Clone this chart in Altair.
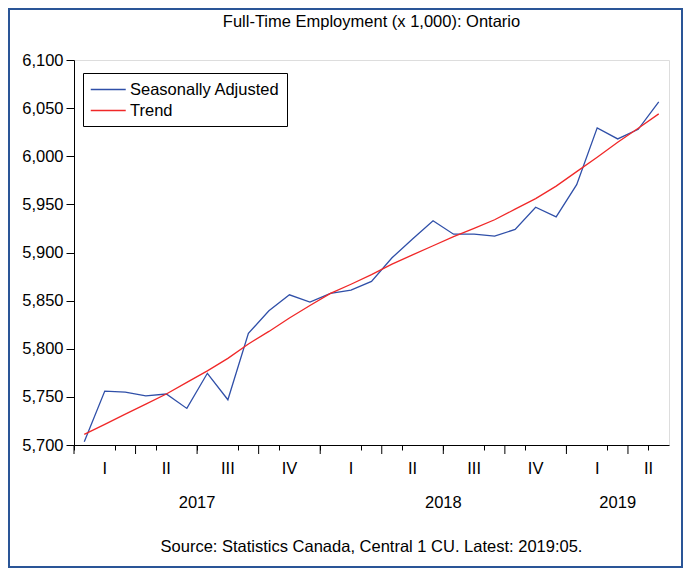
import altair as alt
import pandas as pd

FONT = "Liberation Sans, Arial, sans-serif"
FS = 16.5

# Monthly index: 0 = Jan 2017 ... 28 = May 2019 (points at month centres)
months = list(range(29))
seasonally_adjusted = [
    5703.5, 5756, 5755, 5751, 5753, 5738, 5774.5, 5747, 5816, 5839.5,
    5856, 5848.5, 5857.5, 5861, 5870, 5894.5, 5914, 5933, 5919, 5919,
    5917, 5924, 5947, 5937, 5970.5, 6029.5, 6018, 6028, 6056.5,
]
trend = [
    5711, 5721.5, 5732, 5742.5, 5753, 5765, 5777, 5790, 5805, 5818,
    5832, 5845, 5857.5, 5867, 5877, 5888, 5897.5, 5907, 5916.5, 5925,
    5934, 5945, 5956, 5969, 5984, 5999, 6014.5, 6029, 6044,
]
series_names = ["Seasonally Adjusted", "Trend"]
series_colors = ["#2F4FA8", "#F02828"]

quarter_pos = [1.5, 4.5, 7.5, 10.5, 13.5, 16.5, 19.5, 22.5, 25.5, 28]
quarter_labels = ["I", "II", "III", "IV", "I", "II", "III", "IV", "I", "II"]
year_pos = [6, 18, 26.5]
year_labels = ["2017", "2018", "2019"]
major_ticks = [0, 3, 6, 9, 12, 15, 18, 21, 24, 27]
minor_ticks = list(range(30))
y_ticks = list(range(5700, 6101, 50))

title_text = "Full-Time Employment (x 1,000): Ontario"
source_text = "Source: Statistics Canada, Central 1 CU. Latest: 2019:05."

W, H = 595, 385

rows = []
for m, v in zip(months, seasonally_adjusted):
    rows.append({"m": m + 0.5, "value": v, "series": series_names[0]})
for m, v in zip(months, trend):
    rows.append({"m": m + 0.5, "value": v, "series": series_names[1]})
df = pd.DataFrame(rows)

xscale = alt.Scale(domain=[0, 29], nice=False, zero=False)
yscale = alt.Scale(domain=[5700, 6100], nice=False, zero=False)

x_axis = alt.Axis(
    values=minor_ticks, labels=False, title=None, grid=False,
    tickSize=5, tickColor="black", domainColor="black", tickWidth=1,
)
y_axis = alt.Axis(
    values=y_ticks, format=",d", title=None, grid=False,
    tickSize=8, tickColor="black", domainColor="black",
    labelFontSize=FS, labelFont=FONT, labelColor="black", labelPadding=3,
)

frame = alt.Chart(pd.DataFrame({"a": [0]})).mark_rect(
    fill=None, stroke="#2A5597", strokeWidth=2
).encode(
    x=alt.value(-65), x2=alt.value(W + 13),
    y=alt.value(-51), y2=alt.value(H + 122),
)

lines = alt.Chart(df).mark_line(strokeWidth=1.3).encode(
    x=alt.X("m:Q", scale=xscale, axis=x_axis),
    y=alt.Y("value:Q", scale=yscale, axis=y_axis),
    color=alt.Color(
        "series:N",
        scale=alt.Scale(domain=series_names, range=series_colors),
        legend=alt.Legend(
            title=None, orient="none", legendX=9, legendY=13,
            strokeColor="black", fillColor="white", padding=7,
            rowPadding=3, symbolType="M-1,0H3", symbolSize=306,
            symbolStrokeWidth=1.3, labelFontSize=FS, labelFont=FONT,
            labelColor="black", labelOffset=21,
        ),
    ),
)

major = alt.Chart(pd.DataFrame({"m": major_ticks})).mark_rule(
    color="black", strokeWidth=1
).encode(
    x=alt.X("m:Q", scale=xscale), y=alt.value(H), y2=alt.value(H + 9)
)

qlab = alt.Chart(pd.DataFrame({"m": quarter_pos, "t": quarter_labels})).mark_text(
    fontSize=FS, font=FONT, color="black", baseline="alphabetic", align="center"
).encode(x=alt.X("m:Q", scale=xscale), y=alt.value(H + 29), text="t:N")

ylab = alt.Chart(pd.DataFrame({"m": year_pos, "t": year_labels})).mark_text(
    fontSize=FS, font=FONT, color="black", baseline="alphabetic", align="center"
).encode(x=alt.X("m:Q", scale=xscale), y=alt.value(H + 63), text="t:N")

title = alt.Chart(pd.DataFrame({"t": [title_text]})).mark_text(
    fontSize=FS, font=FONT, color="black", baseline="alphabetic", align="center"
).encode(x=alt.value(W / 2), y=alt.value(-33), text="t:N")

source = alt.Chart(pd.DataFrame({"t": [source_text]})).mark_text(
    fontSize=FS, font=FONT, color="black", baseline="alphabetic", align="center"
).encode(x=alt.value(W / 2), y=alt.value(H + 107), text="t:N")

chart = alt.layer(frame, lines, major, qlab, ylab, title, source).properties(
    width=W, height=H,
    autosize=alt.AutoSizeParams(type="none"),
    padding={"left": 66, "top": 52, "right": 14, "bottom": 123},
).configure_view(stroke="black", strokeWidth=1).configure(background="white")

chart.save("out.html", embed_options={"renderer": "svg", "actions": False})
